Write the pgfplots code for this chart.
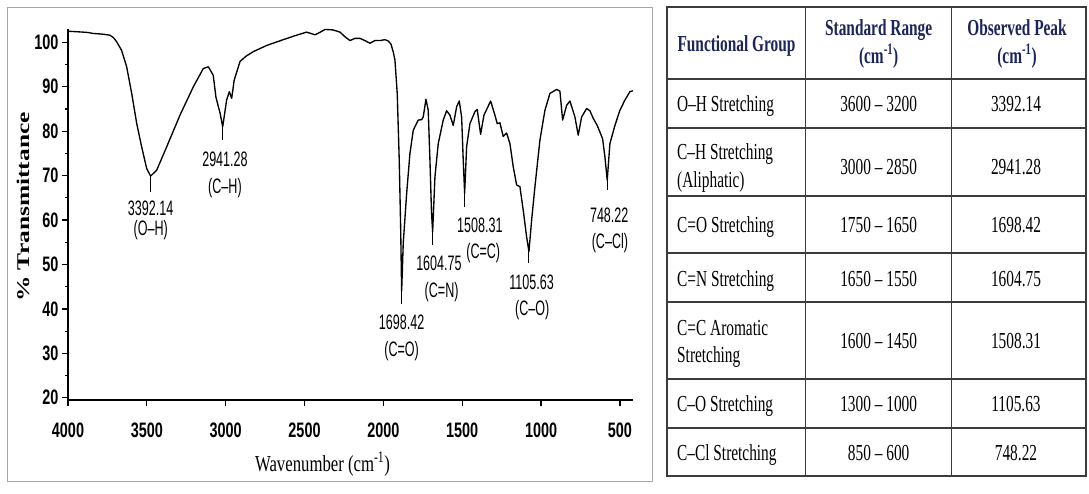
\documentclass[border=0pt]{standalone}
\usepackage{fontspec}
\setmainfont{Liberation Serif}
\newfontfamily\tabfont[FakeStretch=0.67]{Liberation Serif}
\newfontfamily\tickfont[FakeStretch=0.69]{Liberation Sans}
\newfontfamily\peakfont[FakeStretch=0.6]{Liberation Sans}
\newfontfamily\ylabfont[FakeStretch=1.42]{Liberation Serif}
\newfontfamily\xlabfont[FakeStretch=0.73]{Liberation Serif}
\usepackage{pgfplots}
\pgfplotsset{compat=1.18}
\usepackage{pgfplotstable}
\definecolor{hdr}{RGB}{28,36,92}
\definecolor{tline}{RGB}{60,60,60}

\pgfplotstableread{
w T
4000 102.5
3950 102.4
3905 102.3
3870 102.2
3841 102.0
3800 101.9
3770 101.8
3734 101.6
3710 101.0
3691 100.1
3660 98.2
3628 94.5
3596 88.5
3564 81.7
3533 76.5
3501 71.6
3476 69.9
3438 71.2
3374 76.5
3290 83.6
3205 90.0
3142 94.1
3110 94.5
3079 92.6
3062 87.7
3047 85.6
3035 84.0
3019 81.0
2994 87.0
2977 88.9
2962 87.4
2946 91.5
2909 95.7
2870 96.9
2825 97.9
2740 99.3
2635 100.6
2560 101.5
2487 102.3
2460 102.0
2434 101.7
2400 102.3
2370 102.9
2320 102.8
2275 102.3
2245 101.3
2212 100.4
2180 100.9
2149 100.9
2117 100.4
2085 99.8
2054 100.4
2022 100.4
1990 100.6
1969 100.3
1952 99.6
1937 97.8
1926.6 96.0
1912.1 88.5
1899.4 73.5
1890.5 58.5
1884.1 44.0
1874.0 54.8
1852.4 66.0
1831.5 75.0
1810.6 80.2
1778.9 82.5
1757.3 82.6
1747.2 83.2
1730.1 87.2
1715.5 84.7
1704.7 73.5
1695.0 62.0
1687.6 57.3
1673.0 69.7
1652.1 77.2
1620.4 82.5
1598.9 84.6
1577.8 83.6
1556.9 81.3
1535.4 85.5
1518.9 86.8
1503.7 83.2
1493.6 73.5
1484.7 66.1
1472.0 76.5
1451.1 81.7
1419.4 84.4
1404.8 84.9
1383.3 79.3
1362.3 83.6
1319.8 86.8
1292.6 83.6
1278.0 81.7
1260.9 81.9
1240.0 78.8
1218.4 79.6
1197.5 77.2
1176.5 72.0
1155.0 67.9
1134.0 67.5
1113.1 62.2
1091.5 56.2
1076.9 52.9
1059.8 60.0
1038.9 67.5
1007.2 78.0
975.5 84.7
943.8 88.5
901.3 89.4
880.4 89.0
863.3 82.5
837.9 85.8
817.0 86.8
785.3 83.2
764.4 79.1
742.8 83.2
711.1 85.1
690.2 84.6
669.3 82.9
643.9 81.3
626.8 79.8
609.7 78.3
595.1 74.2
580.5 69.0
563.4 77.2
531.7 81.3
500.0 84.7
468.3 87.0
436.6 88.9
417.6 89.1
}\spectrum

\tikzset{
  peak/.style={font=\peakfont\fontsize{21}{21}\selectfont, inner sep=0pt},
  tb/.style={font=\tabfont\fontsize{23}{23}\selectfont, inner sep=0pt, anchor=base},
  th/.style={font=\tabfont\bfseries\fontsize{23}{23}\selectfont, text=hdr, inner sep=0pt, anchor=base},
  tl/.style={draw=tline, line width=1.4bp},
}

\begin{document}
\begin{tikzpicture}
\path[use as bounding box, fill=white] (0,0) rectangle (1089bp,-494bp);
\draw[gray!70, line width=0.9bp] (7bp,-7bp) rectangle (652bp,-481bp);
\begin{axis}[
  at={(68bp,-400bp)}, anchor=south west,
  scale only axis, width=565bp, height=371bp,
  x dir=reverse, xmin=417, xmax=4000, ymin=19.5, ymax=103,
  axis x line=bottom, axis y line=left,
  axis line style={-, line width=1.6bp, black},
  xtick={500,1000,...,4000}, ytick={20,30,...,100},
  minor y tick num=1,
  tick align=outside, major tick length=6bp, minor tick length=3bp,
  tick style={line width=1.2bp, black},
  /pgf/number format/assume math mode=true,
  /pgf/number format/1000 sep={},
  ticklabel style={font=\tickfont\bfseries\fontsize{21}{21}\selectfont},
  xticklabel style={yshift=-13bp},
  clip=false,
]
\addplot[black, line width=1.35bp, line join=round] table[x=w,y=T]{\spectrum};
\addplot[black, line width=1bp] coordinates {(3475.6,69.9) (3475.6,66.4)};
\addplot[black, line width=1bp] coordinates {(3019.1,81.0) (3019.1,78.0)};
\addplot[black, line width=1bp] coordinates {(1884.1,44.0) (1884.1,41.2)};
\addplot[black, line width=1bp] coordinates {(1687.6,57.3) (1687.6,54.4)};
\addplot[black, line width=1bp] coordinates {(1484.7,66.1) (1484.7,63.0)};
\addplot[black, line width=1bp] coordinates {(1076.9,52.9) (1076.9,50.3)};
\addplot[black, line width=1bp] coordinates {(580.5,69.0) (580.5,66.7)};
\node[peak] at (axis cs:3475.6,62.6) {3392.14};
\node[peak] at (axis cs:3475.6,57.8) {(O–H)};
\node[peak] at (axis cs:3004.5,73.6) {2941.28};
\node[peak] at (axis cs:3004.5,67.3) {(C–H)};
\node[peak] at (axis cs:1884.1,36.9) {1698.42};
\node[peak] at (axis cs:1884.1,30.6) {(C=O)};
\node[peak] at (axis cs:1647.6,50.3) {1604.75};
\node[peak] at (axis cs:1630.5,43.9) {(C=N)};
\node[peak] at (axis cs:1387.7,58.9) {1508.31};
\node[peak] at (axis cs:1366.7,52.5) {(C=C)};
\node[peak] at (axis cs:1059.8,46.1) {1105.63};
\node[peak] at (axis cs:1056.0,39.8) {(C–O)};
\node[peak] at (axis cs:567.8,61.1) {748.22};
\node[peak] at (axis cs:563.4,54.8) {(C–Cl)};
\end{axis}
\node[anchor=base, font=\xlabfont\fontsize{23}{23}\selectfont, inner sep=0pt] at (322.5bp,-471bp) {Wavenumber (cm\textsuperscript{-1})};
\node[rotate=90, font=\ylabfont\bfseries\fontsize{18}{18}\selectfont, inner sep=0pt] at (23bp,-207bp) {\% Transmittance};
\begin{scope}[x=1bp,y=-1bp]
\draw[tl] (667,7) rectangle (1086,476);
\draw[tl] (805.7,7) -- (805.7,476);
\draw[tl] (951.7,7) -- (951.7,476);
\foreach \yy in {79,128,196,253,302,379,428} {\draw[tl] (667,\yy) -- (1086,\yy);}
\node[th] at (736.5,51) {Functional Group};
\node[th] at (878.7,35) {Standard Range};
\node[th] at (878.7,63) {(cm\textsuperscript{-1})};
\node[th] at (1017,35) {Observed Peak};
\node[th] at (1017,63) {(cm\textsuperscript{-1})};
\node[tb, anchor=base west] at (677,111) {O–H Stretching};
\node[tb] at (878.7,111) {3600 – 3200};
\node[tb] at (1016,111) {3392.14};
\node[tb, anchor=base west] at (677,159) {C–H Stretching};
\node[tb, anchor=base west] at (677,187) {(Aliphatic)};
\node[tb] at (878.7,174) {3000 – 2850};
\node[tb] at (1016,174) {2941.28};
\node[tb, anchor=base west] at (677,232) {C=O Stretching};
\node[tb] at (878.7,232) {1750 – 1650};
\node[tb] at (1016,232) {1698.42};
\node[tb, anchor=base west] at (677,286) {C=N Stretching};
\node[tb] at (878.7,286) {1650 – 1550};
\node[tb] at (1016,286) {1604.75};
\node[tb, anchor=base west] at (677,335) {C=C Aromatic};
\node[tb, anchor=base west] at (677,362) {Stretching};
\node[tb] at (878.7,348) {1600 – 1450};
\node[tb] at (1016,348) {1508.31};
\node[tb, anchor=base west] at (677,411) {C–O Stretching};
\node[tb] at (878.7,411) {1300 – 1000};
\node[tb] at (1016,411) {1105.63};
\node[tb, anchor=base west] at (677,460) {C–Cl Stretching};
\node[tb] at (878.7,460) {850 – 600};
\node[tb] at (1016,460) {748.22};
\end{scope}
\end{tikzpicture}
\end{document}
